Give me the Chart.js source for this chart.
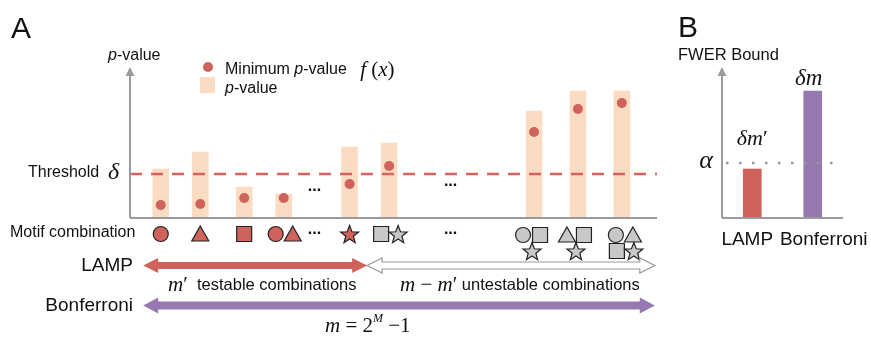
<!DOCTYPE html>
<html>
<head>
<meta charset="utf-8">
<script src="https://cdn.jsdelivr.net/npm/chart.js@4"></script>
<style>
	html, body { margin: 0; padding: 0; background: #fff; }
	#wrap { position: relative; width: 871px; height: 337px; overflow: hidden; }
	canvas { position: absolute; top: 0; }
	#chartA { left: 0; }
	#chartB { left: 670px; }
</style>
</head>
<body>
<div id="wrap">
	<canvas id="chartA" width="670" height="337"></canvas>
	<canvas id="chartB" width="201" height="337"></canvas>
</div>
<script>
// panel A: one slot per motif combination shown
const combinationSlots = [0.7, 1.6, 2.6, 3.5, 5.0, 5.9, 9.2, 10.2, 11.2];
const pValues = [49, 66, 31, 24, 71, 75, 107, 127, 127];
const minPValues = [13, 14, 20, 20, 34, 52, 86, 109, 115];
const motifs = [
	['circle'],
	['triangle'],
	['square'],
	['circle', 'triangle'],
	['star'],
	['square', 'star'],
	['circle', 'square', 'star'],
	['triangle', 'square', 'star'],
	['circle', 'triangle', 'square', 'star'],
];
const testable = [true, true, true, true, true, false, false, false, false];
const threshold = 44;
const ellipsisSlots = [4.2, 7.3];
const ellipsisHeights = [28, 33];
const lampSpan = [0.3, 5.4];
const untestableSpan = [5.4, 11.95];
const bonferroniSpan = [0.3, 11.95];

// panel B
const fwerLabels = ['LAMP', 'Bonferroni'];
const fwerBounds = [49, 127];
const alpha = 55;

const SANS = '"Liberation Sans", Arial, Helvetica, sans-serif';
const SERIF = '"Liberation Serif", "Times New Roman", serif';
const RED = '#CF625B';
const PEACH = '#FBDCC2';
const PURPLE = '#9579B0';
const AXIS = '#9B9B9B';
const GREY_FILL = '#C8C8C8';

function richText(ctx, parts, x, y, align) {
	let total = 0;
	parts.forEach(([t, f]) => { ctx.font = f; total += ctx.measureText(t).width; });
	let cx = align === 'center' ? x - total / 2 : align === 'right' ? x - total : x;
	ctx.textAlign = 'left';
	parts.forEach(([t, f, dy]) => {
		ctx.font = f;
		ctx.fillText(t, cx, y + (dy || 0));
		cx += ctx.measureText(t).width;
	});
}

function drawAxes(ctx, area) {
	ctx.save();
	ctx.strokeStyle = AXIS;
	ctx.fillStyle = AXIS;
	ctx.lineWidth = 2;
	ctx.beginPath();
	ctx.moveTo(area.left, area.bottom);
	ctx.lineTo(area.right, area.bottom);
	ctx.moveTo(area.left, area.bottom);
	ctx.lineTo(area.left, area.top + 6);
	ctx.stroke();
	ctx.beginPath();
	ctx.moveTo(area.left, area.top - 1);
	ctx.lineTo(area.left + 4.5, area.top + 8);
	ctx.lineTo(area.left - 4.5, area.top + 8);
	ctx.closePath();
	ctx.fill();
	ctx.restore();
}

function drawShape(ctx, type, cx, cy, fill) {
	ctx.beginPath();
	if (type === 'circle') {
		ctx.arc(cx, cy, 7.5, 0, Math.PI * 2);
	} else if (type === 'triangle') {
		ctx.moveTo(cx, cy - 8);
		ctx.lineTo(cx + 8.5, cy + 7);
		ctx.lineTo(cx - 8.5, cy + 7);
		ctx.closePath();
	} else if (type === 'square') {
		ctx.rect(cx - 7.5, cy - 7.5, 15, 15);
	} else {
		for (let i = 0; i < 10; i++) {
			const r = i % 2 ? 4 : 9.5;
			const a = -Math.PI / 2 + i * Math.PI / 5;
			const px = cx + r * Math.cos(a);
			const py = cy + 1 + r * Math.sin(a);
			i ? ctx.lineTo(px, py) : ctx.moveTo(px, py);
		}
		ctx.closePath();
	}
	ctx.fillStyle = fill;
	ctx.fill();
	ctx.strokeStyle = '#222';
	ctx.lineWidth = 1.2;
	ctx.stroke();
}

const groupLayouts = {
	1: [[0, 0]],
	2: [[-8, 0], [9, 0]],
	3: [[-11, 0], [6, 0], [-2, 16]],
	4: [[-6, 0], [11, 0], [-5, 16], [12, 16]],
};

function doubleArrow(ctx, x1, x2, y, shaft, headLen, headHalf, fill, stroke) {
	const s = shaft / 2;
	ctx.beginPath();
	ctx.moveTo(x1, y);
	ctx.lineTo(x1 + headLen, y - headHalf);
	ctx.lineTo(x1 + headLen, y - s);
	ctx.lineTo(x2 - headLen, y - s);
	ctx.lineTo(x2 - headLen, y - headHalf);
	ctx.lineTo(x2, y);
	ctx.lineTo(x2 - headLen, y + headHalf);
	ctx.lineTo(x2 - headLen, y + s);
	ctx.lineTo(x1 + headLen, y + s);
	ctx.lineTo(x1 + headLen, y + headHalf);
	ctx.closePath();
	ctx.fillStyle = fill;
	ctx.fill();
	if (stroke) {
		ctx.strokeStyle = stroke;
		ctx.lineWidth = 1.2;
		ctx.stroke();
	}
}

const panelA = {
	id: 'panelA',
	afterDatasetsDraw(chart) {
		const { ctx, chartArea, scales: { y } } = chart;
		ctx.save();
		// threshold
		ctx.strokeStyle = '#D8625C';
		ctx.lineWidth = 2.5;
		ctx.setLineDash([12, 9]);
		ctx.beginPath();
		ctx.moveTo(chartArea.left, y.getPixelForValue(threshold));
		ctx.lineTo(chartArea.right, y.getPixelForValue(threshold));
		ctx.stroke();
		ctx.setLineDash([]);
		ctx.restore();
	},
	afterDraw(chart) {
		const { ctx, chartArea, scales: { x, y } } = chart;
		drawAxes(ctx, chartArea);
		ctx.save();
		ctx.fillStyle = '#111';

		// panel letter and axis title
		ctx.font = '30px ' + SANS;
		ctx.textBaseline = 'alphabetic';
		ctx.fillText('A', 11, 38);
		ctx.textBaseline = 'middle';
		richText(ctx, [['p', 'italic 16px ' + SANS], ['-value', '16px ' + SANS]], 108, 56);

		// legend
		ctx.fillStyle = RED;
		ctx.beginPath();
		ctx.arc(208, 67, 5, 0, Math.PI * 2);
		ctx.fill();
		ctx.fillStyle = PEACH;
		ctx.fillRect(200, 77, 15, 16);
		ctx.fillStyle = '#111';
		richText(ctx, [
			['Minimum ', '16px ' + SANS],
			['p', 'italic 16px ' + SANS],
			['-value   ', '16px ' + SANS],
			['f', 'italic 21px ' + SERIF],
			[' (', '21px ' + SERIF],
			['x', 'italic 21px ' + SERIF],
			[')', '21px ' + SERIF],
		], 225, 70);
		richText(ctx, [['p', 'italic 16px ' + SANS], ['-value', '16px ' + SANS]], 225, 89);

		// threshold label
		richText(ctx, [['Threshold  ', '16px ' + SANS], ['δ', 'italic 24px ' + SERIF]], 28, y.getPixelForValue(threshold) - 1);

		// ellipses
		ctx.font = 'bold 16px ' + SANS;
		ctx.textAlign = 'center';
		ctx.textBaseline = 'alphabetic';
		ellipsisSlots.forEach((s, i) => {
			ctx.fillText('...', x.getPixelForValue(s), y.getPixelForValue(ellipsisHeights[i]) + 1);
			ctx.fillText('...', x.getPixelForValue(s), 234);
		});
		ctx.textBaseline = 'middle';

		// motif combinations
		ctx.textAlign = 'left';
		ctx.font = '16px ' + SANS;
		ctx.fillText('Motif combination', 10, 233);
		combinationSlots.forEach((s, i) => {
			const cx = x.getPixelForValue(s);
			const shapes = motifs[i];
			const layout = groupLayouts[shapes.length];
			const baseY = shapes.length > 2 ? 235 : 234;
			shapes.forEach((shape, j) => {
				drawShape(ctx, shape, cx + layout[j][0], baseY + layout[j][1], testable[i] ? RED : GREY_FILL);
			});
		});

		// arrows
		doubleArrow(ctx, x.getPixelForValue(untestableSpan[0]), x.getPixelForValue(untestableSpan[1]), 265.5, 7, 15, 7.5, '#fff', '#999');
		doubleArrow(ctx, x.getPixelForValue(lampSpan[0]), x.getPixelForValue(lampSpan[1]), 265.5, 7, 15, 7.5, RED);
		doubleArrow(ctx, x.getPixelForValue(bonferroniSpan[0]), x.getPixelForValue(bonferroniSpan[1]), 305.5, 8, 15, 8, PURPLE);

		ctx.fillStyle = '#111';
		ctx.font = '19px ' + SANS;
		ctx.textAlign = 'right';
		ctx.fillText('LAMP', 133, 266);
		ctx.fillText('Bonferroni', 133, 306);

		richText(ctx, [['m', 'italic 21px ' + SERIF], ['′', '21px ' + SERIF], ['  testable combinations', '16.5px ' + SANS]], 168, 285);
		richText(ctx, [
			['m', 'italic 21px ' + SERIF], [' − ', '21px ' + SERIF], ['m', 'italic 21px ' + SERIF],
			['′', '21px ' + SERIF], [' untestable combinations', '16.5px ' + SANS],
		], 400, 285);
		richText(ctx, [
			['m', 'italic 21px ' + SERIF], [' = 2', '21px ' + SERIF], ['M', 'italic 12px ' + SERIF, -7], [' −1', '21px ' + SERIF],
		], 325, 326);
		ctx.restore();
	},
};

const panelB = {
	id: 'panelB',
	afterDraw(chart) {
		const { ctx, chartArea, scales: { y } } = chart;
		const bars = chart.getDatasetMeta(0).data;
		drawAxes(ctx, chartArea);
		ctx.save();
		// alpha level
		ctx.strokeStyle = '#999';
		ctx.lineWidth = 2.5;
		ctx.setLineDash([2.5, 10.5]);
		ctx.beginPath();
		ctx.moveTo(chartArea.left + 4, y.getPixelForValue(alpha));
		ctx.lineTo(chartArea.left + 112, y.getPixelForValue(alpha));
		ctx.stroke();
		ctx.setLineDash([]);

		ctx.fillStyle = '#111';
		ctx.textBaseline = 'alphabetic';
		ctx.font = '30px ' + SANS;
		ctx.fillText('B', 8, 37);
		ctx.textBaseline = 'middle';
		ctx.font = '16.5px ' + SANS;
		ctx.fillText('FWER Bound', 8, 55);

		ctx.font = 'italic 26px ' + SERIF;
		ctx.textAlign = 'right';
		ctx.fillText('α', 43, y.getPixelForValue(alpha) - 2);

		richText(ctx, [['δm', 'italic 23px ' + SERIF]], bars[1].x - 4, bars[1].y - 12, 'center');
		richText(ctx, [['δm', 'italic 22px ' + SERIF], ['′', '22px ' + SERIF]], bars[0].x, bars[0].y - 30, 'center');

		ctx.font = '19px ' + SANS;
		ctx.textAlign = 'center';
		ctx.fillText(fwerLabels[0], bars[0].x - 5, 240);
		ctx.fillText(fwerLabels[1], bars[1].x + 11, 240);
		ctx.restore();
	},
};

new Chart(document.getElementById('chartA'), {
	type: 'bar',
	data: {
		datasets: [
			{
				type: 'scatter',
				label: 'Minimum p-value f(x)',
				data: combinationSlots.map((s, i) => ({ x: s, y: minPValues[i] })),
				backgroundColor: RED,
				borderWidth: 0,
				pointRadius: 5,
				order: 0,
			},
			{
				label: 'p-value',
				data: combinationSlots.map((s, i) => ({ x: s, y: pValues[i] })),
				backgroundColor: PEACH,
				barThickness: 16,
				order: 1,
			},
		],
	},
	options: {
		responsive: false,
		animation: false,
		layout: { padding: { left: 130, right: 13, top: 68, bottom: 119 } },
		plugins: { legend: { display: false }, tooltip: { enabled: false } },
		scales: {
			x: { type: 'linear', min: 0, max: 12, offset: false, display: false },
			y: { min: 0, max: 150, display: false },
		},
	},
	plugins: [panelA],
});

new Chart(document.getElementById('chartB'), {
	type: 'bar',
	data: {
		labels: fwerLabels,
		datasets: [{
			label: 'FWER Bound',
			data: fwerBounds,
			backgroundColor: [RED, PURPLE],
			barThickness: 18,
		}],
	},
	options: {
		responsive: false,
		animation: false,
		layout: { padding: { left: 52, right: 28, top: 68, bottom: 119 } },
		plugins: { legend: { display: false }, tooltip: { enabled: false } },
		scales: {
			x: { display: false },
			y: { min: 0, max: 150, display: false },
		},
	},
	plugins: [panelB],
});
</script>
</body>
</html>
